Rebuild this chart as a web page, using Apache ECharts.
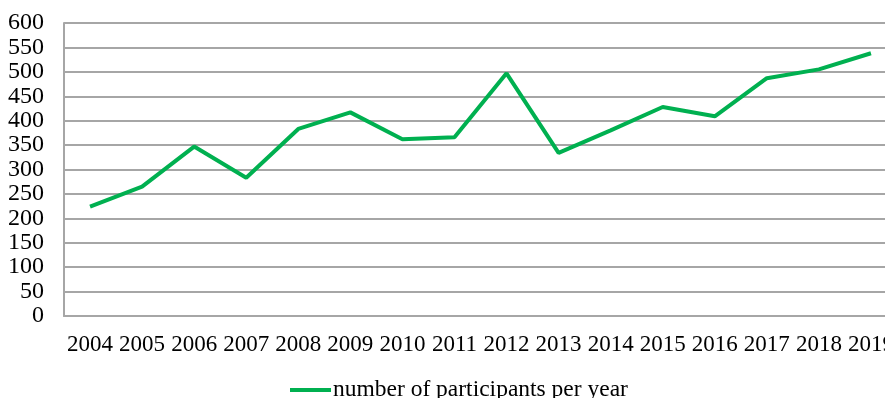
<!DOCTYPE html>
<html>
<head>
<meta charset="utf-8">
<script src="https://cdn.jsdelivr.net/npm/echarts@6/dist/echarts.min.js"></script>
<style>
  html, body { margin: 0; padding: 0; background: #fff; }
  #chart { width: 885px; height: 398px; }
</style>
</head>
<body>
<div id="chart"></div>
<script>
// data
var years = ['2004', '2005', '2006', '2007', '2008', '2009', '2010', '2011',
             '2012', '2013', '2014', '2015', '2016', '2017', '2018', '2019'];
var participants = [224, 265, 347, 283, 383, 417, 362, 366,
                    497, 334, 380, 428, 409, 487, 505, 538];
var seriesName = 'number of participants per year';

var myChart = echarts.init(document.getElementById('chart'));
var option = {
    animation: false,
    textStyle: { fontFamily: 'Liberation Serif' },
    grid: {
        left: 64,
        top: 23,
        bottom: 82,
        width: 833,
        outerBoundsMode: 'none'
    },
    legend: {
        top: 373,
        left: 285,
        icon: 'rect',
        itemWidth: 41,
        itemHeight: 4,
        itemGap: 5,
        textStyle: { fontSize: 23.5, color: '#000', fontFamily: 'Liberation Serif', padding: [0, 0, 0, -3] },
        data: [seriesName]
    },
    xAxis: {
        type: 'category',
        data: years,
        boundaryGap: true,
        axisLine: { lineStyle: { color: '#a6a6a6', width: 2 } },
        axisTick: { show: false },
        axisLabel: {
            color: '#000',
            fontSize: 23,
            margin: 17,
            interval: 0,
            hideOverlap: false,
            fontFamily: 'Liberation Serif'
        }
    },
    yAxis: {
        type: 'value',
        min: 0,
        max: 600,
        interval: 50,
        axisLine: { show: true, lineStyle: { color: '#a6a6a6', width: 2 } },
        axisTick: { show: false },
        splitLine: { lineStyle: { color: '#a6a6a6', width: 2 } },
        axisLabel: {
            color: '#000',
            fontSize: 24,
            margin: 20,
            fontFamily: 'Liberation Serif'
        }
    },
    series: [
        {
            name: seriesName,
            type: 'line',
            data: participants,
            symbol: 'none',
            lineStyle: { color: '#00b050', width: 4 },
            itemStyle: { color: '#00b050' }
        }
    ]
};
myChart.setOption(option);
</script>
</body>
</html>
